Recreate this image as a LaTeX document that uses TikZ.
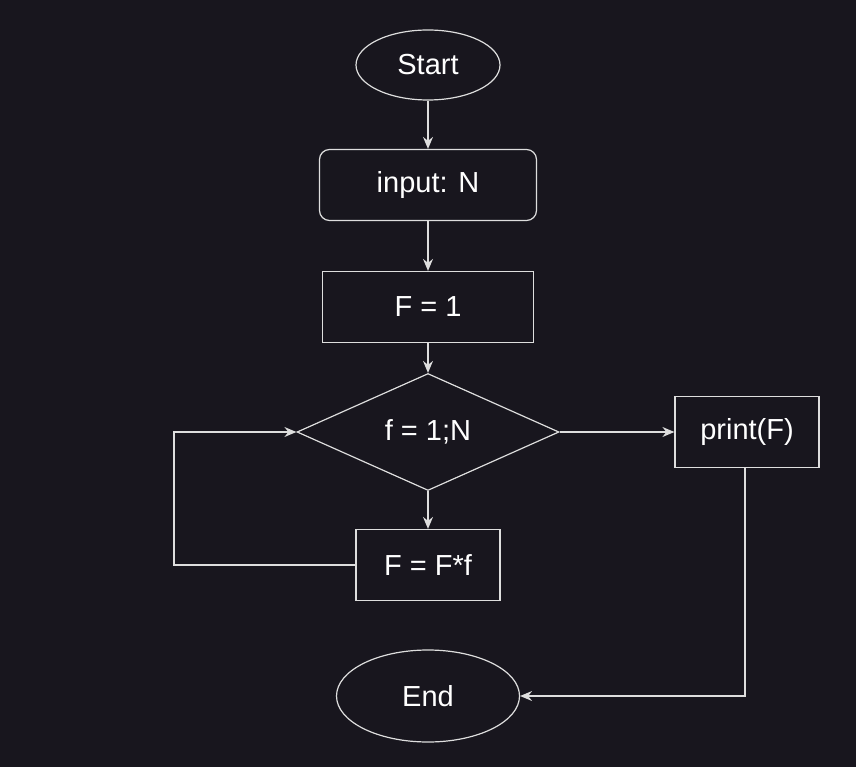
\documentclass[tikz,border=0pt]{standalone}
\usepackage{fontspec}
\setmainfont{Liberation Sans}
\usetikzlibrary{arrows.meta,shapes.geometric,positioning,calc}
\definecolor{bgdark}{RGB}{24,22,30}
\definecolor{linegray}{RGB}{222,222,222}
\tikzset{>={Stealth[length=12pt,width=10pt,inset=4pt]}}
\tikzset{
	base/.style={draw=linegray, line width=1.2pt, text=white, inner sep=0pt, font=\fontsize{29}{34}\selectfont},
	terminal/.style={base, ellipse},
	process/.style={base, rectangle, minimum width=144pt, minimum height=71pt},
	decision/.style={base, diamond, minimum width=262pt, minimum height=117pt},
	flow/.style={draw=linegray, line width=1.2pt, ->}
}

\begin{document}
\begin{tikzpicture}[x=1pt, y=-1pt]

	\fill[bgdark] (0,0) rectangle (856,767);
	\useasboundingbox (0,0) rectangle (856,767);

	\node (start) [terminal, minimum width=144pt, minimum height=70pt] at (428,65) {Start};

	\node (input) [process, rounded corners=10pt, minimum width=217pt] at (428,185) {input: N};

	\node (init) [process, minimum width=211pt] at (428,307) {F = 1};

	\node (cond) [decision] at (428,432) {f = 1;N};

	\node (mul) [process] at (428,565) {F = F*f};

	\node (print) [process] at (747,432) {print(F)};

	\node (end) [terminal, minimum width=183pt, minimum height=92pt] at (428,696) {End};

	\coordinate (loop-anchor) at (174,565);
	\coordinate (print-anchor) at (745,467);

	\draw[flow] (start) to (input);
	\draw[flow] (input) to (init);
	\draw[flow] (init) to (cond);
	\draw[flow] (cond) to (mul);
	\draw[flow] (cond) to (print);
	\draw[flow] (mul.west) -- (loop-anchor) |- (cond.west);
	\draw[flow] (print-anchor) |- (end.east);

\end{tikzpicture}
\end{document}
